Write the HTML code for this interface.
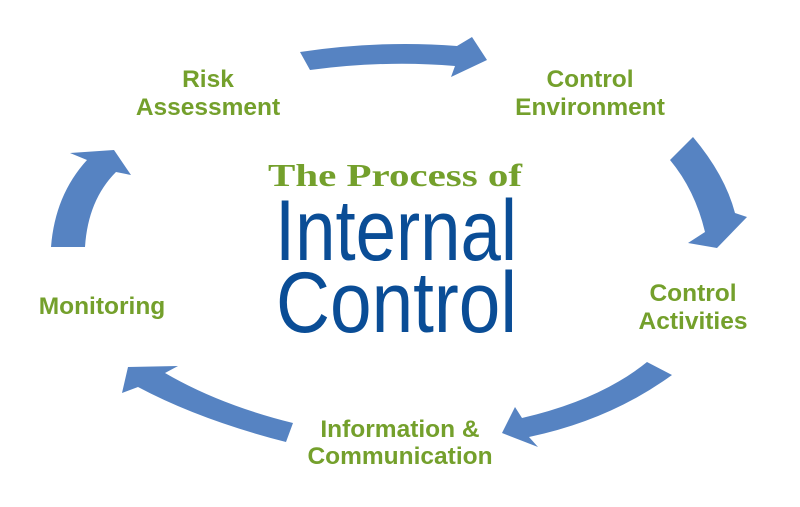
<!DOCTYPE html>
<html><head><meta charset="utf-8"><style>
html,body{margin:0;padding:0;background:#fff;}
svg{display:block;}
.g{font-family:"Liberation Sans",sans-serif;font-weight:bold;font-size:24.5px;fill:#74a02c;}
</style></head><body>
<svg width="800" height="507" viewBox="0 0 800 507" xmlns="http://www.w3.org/2000/svg">
<g fill="#5683c2">
<path d="M300,52 Q380,40 457,46 L472,37 L487,60 L451,77 L455,66 Q385,60 310,70 Z"/>
<path d="M670,160 L693,137 Q725,175 735,213 L747,217 L717,248 L688,243 L705,232 Q695,190 670,160 Z"/>
<path d="M647,362 L672,375 Q610,420 529,437 L538,447 L502,433 L515,407 L522,418 Q600,400 647,362 Z"/>
<path d="M293,423 L286,442 Q200,420 138,387 L122,393 L128,367 L178,366 L165,373 Q220,405 293,423 Z"/>
<path d="M51,247 L85,247 Q88,200 116,172 L131,175 L114,150 L70,153 L87,160 Q55,195 51,247 Z"/>
</g>
<text class="g" x="208" y="87" text-anchor="middle">Risk</text>
<text class="g" x="208" y="115" text-anchor="middle">Assessment</text>
<text class="g" x="590" y="87" text-anchor="middle">Control</text>
<text class="g" x="590" y="115" text-anchor="middle">Environment</text>
<text class="g" x="693" y="301" text-anchor="middle">Control</text>
<text class="g" x="693" y="329" text-anchor="middle">Activities</text>
<text class="g" x="102" y="314" text-anchor="middle">Monitoring</text>
<text class="g" x="400" y="437" text-anchor="middle">Information &amp;</text>
<text class="g" x="400" y="464" text-anchor="middle">Communication</text>
<text x="268" y="186" textLength="254" lengthAdjust="spacingAndGlyphs" font-family="Liberation Serif,serif" font-weight="bold" font-size="32" fill="#74a02c">The Process of</text>
<text x="275" y="260" textLength="242" lengthAdjust="spacingAndGlyphs" font-family="Liberation Sans,sans-serif" font-size="86" fill="#0a4d96">Internal</text>
<text x="276" y="332" textLength="241" lengthAdjust="spacingAndGlyphs" font-family="Liberation Sans,sans-serif" font-size="86" fill="#0a4d96">Control</text>
</svg>
</body></html>
